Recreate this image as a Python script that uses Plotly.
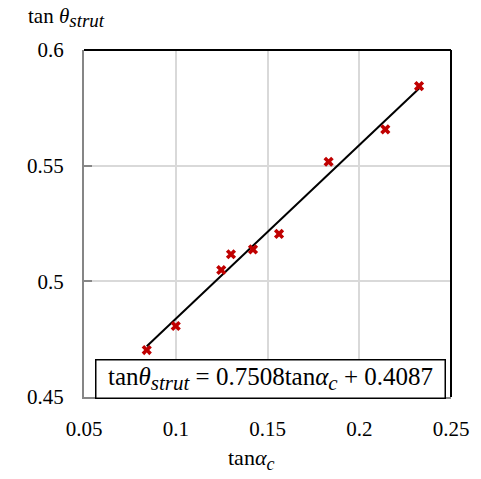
import plotly.graph_objects as go

tan_alpha = [0.0842, 0.1000, 0.1248, 0.1301, 0.1421, 0.1563, 0.1833, 0.2142, 0.2326]
tan_theta = [0.4703, 0.4807, 0.5049, 0.5117, 0.5138, 0.5205, 0.5517, 0.5657, 0.5844]
slope = 0.7508
intercept = 0.4087
x_ticks = [0.05, 0.1, 0.15, 0.2, 0.25]
x_tick_labels = ["0.05", "0.1", "0.15", "0.2", "0.25"]
y_ticks = [0.45, 0.5, 0.55, 0.6]
y_tick_labels = ["0.45", "0.5", "0.55", "0.6"]

FONT = "Times New Roman, Times, Liberation Serif, serif"

fit_x = [min(tan_alpha), max(tan_alpha)]
fit_y = [slope * v + intercept for v in fit_x]


def sub(txt, px):
    return f"<sub><span style='font-size:{px}px'><i>{txt}</i></span></sub>"


fig = go.Figure()
fig.add_trace(go.Scatter(x=fit_x, y=fit_y, mode="lines",
                         line=dict(color="black", width=2), showlegend=False))
fig.add_trace(go.Scatter(x=tan_alpha, y=tan_theta, mode="markers",
                         marker=dict(symbol="x", size=9, color="#C00000",
                                     line=dict(width=0)),
                         showlegend=False))

fig.update_layout(
    width=481, height=479,
    margin=dict(l=84, r=30, t=50, b=82),
    paper_bgcolor="white", plot_bgcolor="white",
    font=dict(family=FONT, size=21, color="black"),
    xaxis=dict(range=[0.05, 0.25], tickvals=x_ticks, ticktext=x_tick_labels,
               tickfont=dict(family=FONT, size=21, color="black"),
               showgrid=True, gridcolor="#d9d9d9", gridwidth=1.5,
               showline=True, linecolor="#868686", linewidth=2,
               zeroline=False, ticks="", ticklabelstandoff=12),
    yaxis=dict(range=[0.45, 0.6], tickvals=y_ticks, ticktext=y_tick_labels,
               tickfont=dict(family=FONT, size=21, color="black"),
               showgrid=True, gridcolor="#d9d9d9", gridwidth=1.5,
               showline=True, linecolor="#868686", linewidth=2,
               zeroline=False, ticks="inside", ticklen=8, tickcolor="#868686",
               tickwidth=2, ticklabelstandoff=14),
    shapes=[
        dict(type="line", xref="paper", yref="paper", x0=0, x1=1, y0=1, y1=1,
             line=dict(color="black", width=2)),
        dict(type="line", xref="paper", yref="paper", x0=1, x1=1, y0=0, y1=1,
             line=dict(color="black", width=2)),
    ],
    annotations=[
        dict(text="tan <i>θ</i>" + sub("strut", 19), xref="paper", yref="paper",
             x=-0.158, y=1.095, xanchor="left", yanchor="middle", showarrow=False,
             font=dict(family=FONT, size=21, color="black")),
        dict(text="tan<i>α</i>" + sub("c", 18), xref="paper", yref="paper",
             x=0.455, y=-0.18, xanchor="center", yanchor="middle", showarrow=False,
             font=dict(family=FONT, size=22, color="black")),
        dict(text="tan<i>θ</i>" + sub("strut", 21) + " = 0.7508tan<i>α</i>" + sub("c", 21) + " + 0.4087",
             xref="paper", yref="paper", x=0.508, y=0.052, xanchor="center",
             yanchor="middle", showarrow=False,
             font=dict(family=FONT, size=25, color="black"),
             bordercolor="black", borderwidth=1.5, bgcolor="white",
             width=346, height=35),
    ],
)

fig.write_html("out.html")
